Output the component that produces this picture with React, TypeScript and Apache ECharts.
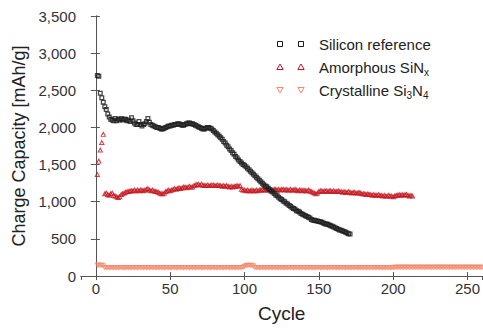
import React, { useEffect, useRef } from 'react';
import * as echarts from 'echarts';

const seriesNames = ['Silicon reference', 'Amorphous SiNx', 'Crystalline Si3N4'];
const legendLabels = ['Silicon reference', 'Amorphous SiN{sub|x}', 'Crystalline Si{sub|3}N{sub|4}'];
const xTitle = 'Cycle';
const yTitle = 'Charge Capacity [mAh/g]';

// Silicon reference, cycles 1..171
const siliconRef = [
  2700, 2690, 2460, 2400, 2340, 2280, 2240, 2180, 2140, 2110,
  2100, 2090, 2120, 2090, 2110, 2100, 2120, 2100, 2110, 2110,
  2090, 2100, 2080, 2130, 2090, 2060, 2040, 2040, 2080, 2040,
  2020, 2040, 2050, 2080, 2120, 2070, 2040, 2030, 2020, 2010,
  2000, 2000, 1990, 1980, 1980, 1990, 2000, 2010, 2020, 2020,
  2030, 2030, 2040, 2040, 2050, 2050, 2040, 2030, 2030, 2040,
  2050, 2060, 2060, 2050, 2050, 2040, 2030, 2020, 2010, 2000,
  1990, 1980, 1980, 1990, 2000, 2000, 1990, 1980, 1960, 1940,
  1920, 1900, 1880, 1860, 1840, 1810, 1790, 1760, 1740, 1710,
  1690, 1660, 1640, 1610, 1590, 1560, 1540, 1520, 1500, 1490,
  1470, 1450, 1430, 1410, 1390, 1370, 1350, 1330, 1310, 1290,
  1270, 1250, 1230, 1210, 1200, 1180, 1160, 1140, 1130, 1110,
  1090, 1080, 1060, 1040, 1030, 1010, 1000, 980, 970, 950,
  940, 920, 910, 900, 880, 870, 860, 840, 830, 820,
  810, 800, 790, 780, 760, 750, 750, 745, 740, 735,
  730, 725, 715, 705, 700, 695, 685, 675, 670, 660,
  650, 640, 630, 620, 615, 605, 600, 590, 580, 570,
  565,
];

// Amorphous SiNx, cycles 1..213
const amorphousSiNx = [
  1370, 1550, 1700, 1800, 1910, 1110, 1120, 1100, 1090, 1110,
  1120, 1090, 1080, 1070, 1060, 1070, 1100, 1110, 1120, 1130,
  1140, 1140, 1150, 1150, 1150, 1160, 1150, 1160, 1150, 1160,
  1160, 1150, 1160, 1170, 1180, 1160, 1150, 1160, 1150, 1140,
  1140, 1130, 1120, 1110, 1110, 1120, 1140, 1150, 1160, 1150,
  1160, 1170, 1180, 1170, 1180, 1190, 1180, 1190, 1200, 1200,
  1190, 1200, 1210, 1200, 1200, 1220, 1230, 1240, 1240, 1230,
  1240, 1230, 1220, 1220, 1230, 1220, 1220, 1230, 1230, 1220,
  1220, 1230, 1220, 1220, 1210, 1220, 1210, 1220, 1210, 1200,
  1210, 1200, 1210, 1210, 1220, 1210, 1220, 1170, 1160, 1160,
  1150, 1160, 1150, 1150, 1160, 1150, 1150, 1160, 1150, 1160,
  1160, 1170, 1160, 1160, 1170, 1160, 1170, 1160, 1160, 1170,
  1170, 1160, 1170, 1160, 1170, 1170, 1160, 1170, 1160, 1160,
  1170, 1160, 1160, 1170, 1160, 1150, 1160, 1160, 1150, 1160,
  1150, 1150, 1160, 1150, 1140, 1130, 1120, 1110, 1120, 1140,
  1150, 1150, 1140, 1150, 1150, 1140, 1150, 1150, 1140, 1150,
  1140, 1140, 1150, 1140, 1140, 1130, 1140, 1130, 1130, 1140,
  1130, 1120, 1130, 1130, 1120, 1120, 1130, 1120, 1110, 1110,
  1110, 1100, 1110, 1100, 1100, 1090, 1100, 1090, 1090, 1100,
  1090, 1090, 1080, 1090, 1080, 1080, 1090, 1080, 1080, 1070,
  1080, 1090, 1090, 1100, 1090, 1100, 1090, 1100, 1100, 1090,
  1080, 1090, 1080,
];

// Crystalline Si3N4, cycles 1..262
const crystallineSi3N4 = [
  145, 142, 140, 140, 135, 112, 110, 110, 108, 110,
  110, 108, 110, 110, 108, 110, 110, 110, 108, 110,
  110, 110, 108, 110, 110, 110, 110, 108, 110, 110,
  110, 108, 110, 110, 110, 108, 110, 110, 110, 110,
  108, 110, 110, 110, 110, 108, 110, 110, 110, 108,
  110, 110, 110, 108, 110, 110, 110, 110, 108, 110,
  110, 110, 108, 110, 110, 110, 108, 110, 110, 110,
  110, 108, 110, 110, 110, 110, 108, 110, 110, 110,
  108, 110, 110, 110, 108, 110, 110, 110, 110, 108,
  110, 110, 110, 108, 110, 110, 110, 112, 115, 125,
  138, 142, 142, 140, 138, 130, 112, 110, 110, 108,
  110, 110, 110, 108, 110, 110, 110, 110, 108, 110,
  110, 108, 110, 110, 110, 110, 108, 110, 110, 110,
  110, 110, 108, 110, 110, 110, 108, 110, 110, 110,
  108, 110, 110, 110, 110, 108, 110, 110, 110, 110,
  110, 108, 110, 110, 110, 108, 110, 110, 110, 110,
  110, 110, 108, 110, 110, 110, 110, 108, 110, 110,
  108, 110, 110, 110, 110, 110, 108, 110, 110, 110,
  110, 108, 110, 110, 110, 110, 110, 108, 110, 110,
  110, 110, 108, 110, 110, 110, 110, 108, 110, 112,
  114, 115, 115, 115, 116, 115, 115, 115, 116, 115,
  115, 116, 115, 115, 115, 116, 115, 115, 115, 115,
  116, 115, 115, 115, 116, 115, 115, 115, 115, 116,
  115, 115, 115, 116, 115, 115, 115, 115, 116, 115,
  115, 115, 116, 115, 115, 115, 115, 116, 115, 115,
  115, 116, 115, 115, 115, 115, 116, 115, 115, 115,
  116, 115,
];

const colors = ['#1c1c1c', '#c4161f', '#f4896c'];

const SQ = 'path://M0,0H10V10H0Z M2.6,2.6V7.4H7.4V2.6Z';
const TRI_UP = 'path://M5,0L10,9H0Z M5,4L2.7,7.4H7.3Z';
const TRI_DOWN = 'path://M0,0H10L5,9Z M2.7,1.6L5,5L7.3,1.6Z';

const toPairs = (arr: number[]) => arr.map((v, i) => [i + 1, v]);

export default function App() {
  const ref = useRef<HTMLDivElement>(null);
  useEffect(() => {
    if (!ref.current) return;
    const chart = echarts.init(ref.current, undefined, { renderer: 'svg' });
    const font = 'Liberation Sans';
    const axisColor = '#555';
    const legendRows = [44, 67, 90];
    const legendGraphics: any[] = [];
    legendRows.forEach((y, i) => {
      [280, 301].forEach((x) => {
        if (i === 0) {
          legendGraphics.push({ type: 'rect', shape: { x: x - 2.5, y: y - 2.5, width: 5, height: 5 }, style: { fill: 'none', stroke: colors[0], lineWidth: 1 } });
        } else if (i === 1) {
          legendGraphics.push({ type: 'polygon', shape: { points: [[x, y - 3], [x + 3.2, y + 2.5], [x - 3.2, y + 2.5]] }, style: { fill: 'none', stroke: colors[1], lineWidth: 1 } });
        } else {
          legendGraphics.push({ type: 'polygon', shape: { points: [[x - 3.2, y - 2.5], [x + 3.2, y - 2.5], [x, y + 3]] }, style: { fill: 'none', stroke: colors[2], lineWidth: 1 } });
        }
      });
      legendGraphics.push({
        type: 'text',
        x: 319,
        y: y,
        style: {
          text: legendLabels[i],
          fill: '#222',
          fontSize: 15,
          fontFamily: font,
          verticalAlign: 'middle',
          textVerticalAlign: 'middle',
          rich: {
            sub: { fontSize: 10, fontFamily: font, fill: '#222', verticalAlign: 'bottom', lineHeight: 10, padding: [0, 0, -3, 0] },
          },
        },
      });
    });

    chart.setOption({
      animation: false,
      grid: { left: 81, top: 16, width: 404, height: 264, containLabel: false },
      xAxis: [
        {
          type: 'value', min: -10, max: 260, splitNumber: 5,
          name: xTitle, nameLocation: 'middle', nameGap: 28,
          nameTextStyle: { fontSize: 19, color: '#222', fontFamily: font },
          axisLine: { show: true, lineStyle: { color: axisColor, width: 1 } },
          axisTick: { show: true, inside: true, length: 4, lineStyle: { color: axisColor } },
          axisLabel: { fontSize: 15, color: '#333', fontFamily: font, margin: 5, showMinLabel: false, showMaxLabel: false },
          splitLine: { show: false },
        },
        {
          type: 'value', min: -10, max: 260, splitNumber: 5, position: 'top',
          axisLine: { show: true, lineStyle: { color: axisColor, width: 1 } },
          axisTick: { show: true, inside: true, length: 4, lineStyle: { color: axisColor } },
          axisLabel: { show: false },
          splitLine: { show: false },
        },
      ],
      yAxis: [
        {
          type: 'value', min: 0, max: 3500, interval: 500,
          name: yTitle, nameLocation: 'middle', nameGap: 48,
          nameTextStyle: { fontSize: 18, color: '#222', fontFamily: font },
          axisLine: { show: true, lineStyle: { color: axisColor, width: 1 } },
          axisTick: { show: true, inside: true, length: 4, lineStyle: { color: axisColor } },
          axisLabel: { fontSize: 15, color: '#333', fontFamily: font, margin: 5, formatter: (v: number) => v.toLocaleString('en-US') },
          splitLine: { show: false },
        },
        {
          type: 'value', min: 0, max: 3500, interval: 500, position: 'right',
          axisLine: { show: true, lineStyle: { color: axisColor, width: 1 } },
          axisTick: { show: true, inside: true, length: 5, lineStyle: { color: axisColor } },
          axisLabel: { show: false },
          splitLine: { show: false },
        },
      ],
      series: [
        {
          name: seriesNames[2], type: 'scatter', data: toPairs(crystallineSi3N4),
          symbol: TRI_DOWN, symbolSize: [6, 5.5], itemStyle: { color: colors[2] },
        },
        {
          name: seriesNames[1], type: 'scatter', data: toPairs(amorphousSiNx),
          symbol: TRI_UP, symbolSize: [6, 5.5], itemStyle: { color: colors[1] },
        },
        {
          name: seriesNames[0], type: 'scatter', data: toPairs(siliconRef),
          symbol: SQ, symbolSize: 5, itemStyle: { color: colors[0] },
        },
      ],
      graphic: legendGraphics,
    });
    return () => chart.dispose();
  }, []);
  return <div ref={ref} style={{ position: 'absolute', left: 0, top: 0, width: 483, height: 328 }} />;
}
